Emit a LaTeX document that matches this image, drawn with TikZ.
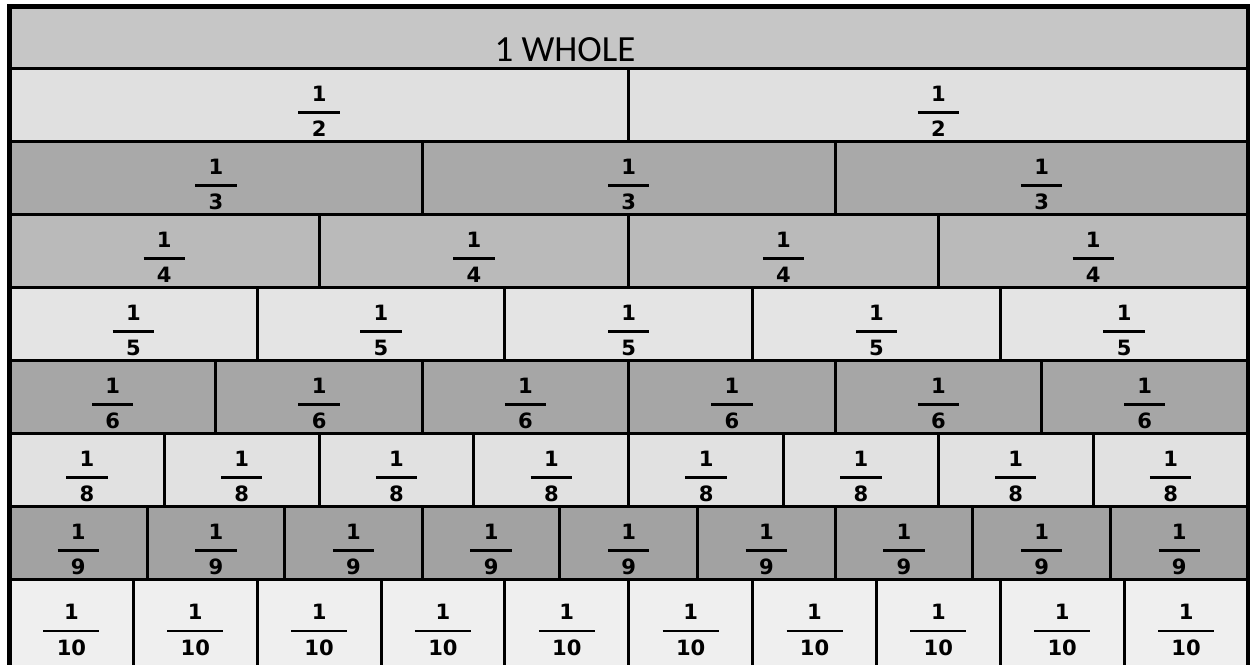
\documentclass[tikz,border=0pt]{standalone}
\usepackage{fontspec}
\newfontfamily\numfont{DejaVu Sans}
\newfontfamily\wholefont{Carlito}
\definecolor{row1}{HTML}{C6C6C6}
\definecolor{row2}{HTML}{E0E0E0}
\definecolor{row3}{HTML}{A9A9A9}
\definecolor{row4}{HTML}{BABABA}
\definecolor{row5}{HTML}{E4E4E4}
\definecolor{row6}{HTML}{A6A6A6}
\definecolor{row8}{HTML}{E1E1E1}
\definecolor{row9}{HTML}{A2A2A2}
\definecolor{row10}{HTML}{EFEFEF}
\newcommand{\frc}[1]{\raisebox{-0.16cm}[\height][\depth]{\setlength{\tabcolsep}{7.6pt}\setlength{\arrayrulewidth}{1.6pt}\renewcommand{\arraystretch}{1.3}\begin{tabular}{c}1\\\hline #1\end{tabular}}}
\tikzset{
  cell/.style={draw=black, line width=0.06cm, inner sep=0pt, outer sep=0pt,
    font=\numfont\bfseries\fontsize{12}{14.4}\selectfont},
  wholelbl/.style={inner sep=0pt, font=\wholefont\fontsize{21}{25}\selectfont},
  frame/.style={draw=black, line width=0.1cm}
}
\begin{document}
\begin{tikzpicture}[x=0.02cm,y=-0.02cm]
\useasboundingbox (0,0) rectangle (1250,664);
\node[cell, fill=row1, minimum width=1238.5*0.02cm, minimum height=62*0.02cm] (whole) at (628.75,37) {};
\node[wholelbl] (wholetxt) at (565,50) {1 WHOLE};
\foreach \n/\t/\h/\c in {2/68/73/row2,3/141/73/row3,4/214/73/row4,5/287/73/row5,6/360/73/row6,8/433/73/row8,9/506/73/row9,10/579/88/row10} {
    \pgfmathsetmacro{\w}{1238.5/\n}
    \foreach \i in {1,...,\n} {
        \node[cell, fill=\c, minimum width=\w*0.02cm, minimum height=\h*0.02cm] (r\n-\i) at ({9.5+(\i-0.5)*\w},{\t+\h/2}) {\frc{\n}};
    }
}
\draw[frame] (9.5,6.5) rectangle (1248,700);
\end{tikzpicture}
\end{document}
